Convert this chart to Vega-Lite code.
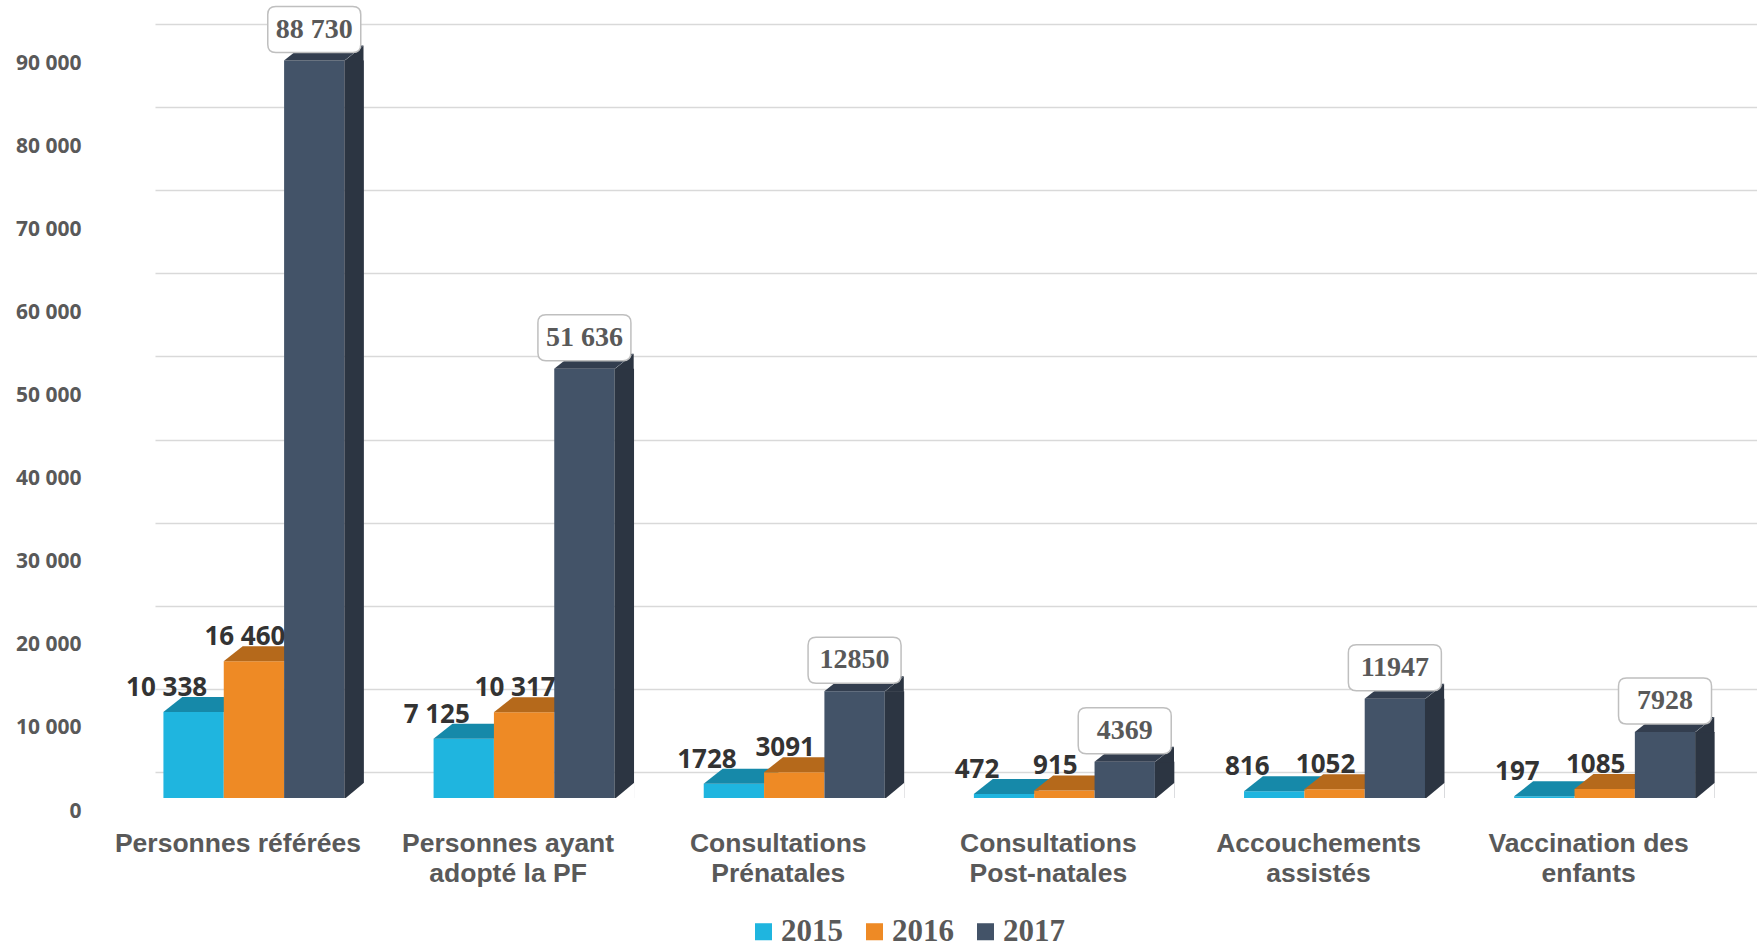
{
  "$schema": "https://vega.github.io/schema/vega-lite/v6.json",
  "width": 1602,
  "height": 748,
  "autosize": {"type": "none"},
  "padding": {"left": 155, "top": 50, "right": 0, "bottom": 149},
  "background": "white",
  "config": {"view": {"stroke": null}, "font": "Open Sans"},
  "data": {
    "values": [
      {"category": "Personnes référées", "year": "2015", "value": 10338, "label": "10 338"},
      {"category": "Personnes référées", "year": "2016", "value": 16460, "label": "16 460"},
      {"category": "Personnes référées", "year": "2017", "value": 88730, "label": "88 730"},
      {"category": "Personnes ayant\nadopté la PF", "year": "2015", "value": 7125, "label": "7 125"},
      {"category": "Personnes ayant\nadopté la PF", "year": "2016", "value": 10317, "label": "10 317"},
      {"category": "Personnes ayant\nadopté la PF", "year": "2017", "value": 51636, "label": "51 636"},
      {"category": "Consultations\nPrénatales", "year": "2015", "value": 1728, "label": "1728"},
      {"category": "Consultations\nPrénatales", "year": "2016", "value": 3091, "label": "3091"},
      {"category": "Consultations\nPrénatales", "year": "2017", "value": 12850, "label": "12850"},
      {"category": "Consultations\nPost-natales", "year": "2015", "value": 472, "label": "472"},
      {"category": "Consultations\nPost-natales", "year": "2016", "value": 915, "label": "915"},
      {"category": "Consultations\nPost-natales", "year": "2017", "value": 4369, "label": "4369"},
      {"category": "Accouchements\nassistés", "year": "2015", "value": 816, "label": "816"},
      {"category": "Accouchements\nassistés", "year": "2016", "value": 1052, "label": "1052"},
      {"category": "Accouchements\nassistés", "year": "2017", "value": 11947, "label": "11947"},
      {"category": "Vaccination des\nenfants", "year": "2015", "value": 197, "label": "197"},
      {"category": "Vaccination des\nenfants", "year": "2016", "value": 1085, "label": "1085"},
      {"category": "Vaccination des\nenfants", "year": "2017", "value": 7928, "label": "7928"}
    ]
  },
  "encoding": {
    "x": {
      "field": "category",
      "type": "nominal",
      "sort": null,
      "scale": {"paddingInner": 0.33, "paddingOuter": 0.13, "align": 0.12},
      "axis": {
        "title": null,
        "ticks": false,
        "tickSize": 0,
        "domain": false,
        "grid": false,
        "labelAngle": 0,
        "labelPadding": 32,
        "labelOffset": -16,
        "labelFont": "Liberation Sans",
        "labelFontWeight": "bold",
        "labelFontSize": 26.5,
        "labelColor": "#595959",
        "labelLineHeight": 30,
        "labelLimit": 500,
        "labelOverlap": false,
        "labelExpr": "split(datum.label, '\\n')"
      }
    },
    "y": {
      "field": "value",
      "type": "quantitative",
      "scale": {"domain": [0, 90000], "nice": false, "zero": true},
      "axis": {
        "title": null,
        "values": [0, 10000, 20000, 30000, 40000, 50000, 60000, 70000, 80000, 90000],
        "labelExpr": "datum.value == 0 ? '0' : (datum.value / 1000) + ' 000'",
        "ticks": false,
        "tickSize": 0,
        "domain": false,
        "grid": true,
        "gridColor": "#D9D9D9",
        "gridWidth": 1.5,
        "tickOffset": -26,
        "labelOffset": 39,
        "labelPadding": 74,
        "labelFont": "Open Sans",
        "labelFontWeight": "bold",
        "labelFontSize": 21,
        "labelColor": "#595959"
      }
    }
  },
  "layer": [
    {
      "transform": [{"filter": "datum.year == '2015'"}],
      "mark": {"type": "bar"},
      "encoding": {
        "xOffset": {"field": "year", "type": "nominal", "scale": {"domain": ["2015", "2016", "2017"], "paddingInner": 0, "paddingOuter": 0}},
        "color": {
          "field": "year", "type": "nominal",
          "scale": {"domain": ["2015", "2016", "2017"], "range": ["#1FB5DF", "#EE8A25", "#435368"]},
          "legend": {"orient": "none", "legendX": 593, "legendY": 866, "direction": "horizontal", "title": null, "symbolType": "square", "symbolSize": 290, "symbolStrokeWidth": 0, "labelFont": "Liberation Serif", "labelFontWeight": "bold", "labelFontSize": 31, "labelColor": "#595959", "labelOffset": 2, "columnPadding": 16}
        }
      }
    },
    {
      "transform": [{"filter": "datum.year == '2015'"}],
      "mark": {"type": "point", "shape": "M-0.605,0L0.605,0L0.985,-0.3L-0.225,-0.3Z", "size": 10000, "filled": true, "opacity": 1, "strokeWidth": 0, "color": "#1689A9"},
      "encoding": {"xOffset": {"field": "year", "type": "nominal"}}
    },
    {
      "transform": [{"filter": "datum.year == '2016'"}],
      "mark": {"type": "bar"},
      "encoding": {
        "xOffset": {"field": "year", "type": "nominal"},
        "color": {
          "field": "year", "type": "nominal",
          "scale": {"domain": ["2015", "2016", "2017"], "range": ["#1FB5DF", "#EE8A25", "#435368"]},
          "legend": {"orient": "none", "legendX": 593, "legendY": 866, "direction": "horizontal", "title": null, "symbolType": "square", "symbolSize": 290, "symbolStrokeWidth": 0, "labelFont": "Liberation Serif", "labelFontWeight": "bold", "labelFontSize": 31, "labelColor": "#595959", "labelOffset": 2, "columnPadding": 16}
        }
      }
    },
    {
      "transform": [{"filter": "datum.year == '2016'"}],
      "mark": {"type": "point", "shape": "M-0.605,0L0.605,0L0.985,-0.3L-0.225,-0.3Z", "size": 10000, "filled": true, "opacity": 1, "strokeWidth": 0, "color": "#B5691B"},
      "encoding": {"xOffset": {"field": "year", "type": "nominal"}}
    },
    {
      "transform": [{"filter": "datum.year == '2017'"}],
      "mark": {"type": "bar"},
      "encoding": {
        "xOffset": {"field": "year", "type": "nominal"},
        "color": {
          "field": "year", "type": "nominal",
          "scale": {"domain": ["2015", "2016", "2017"], "range": ["#1FB5DF", "#EE8A25", "#435368"]},
          "legend": {"orient": "none", "legendX": 593, "legendY": 866, "direction": "horizontal", "title": null, "symbolType": "square", "symbolSize": 290, "symbolStrokeWidth": 0, "labelFont": "Liberation Serif", "labelFontWeight": "bold", "labelFontSize": 31, "labelColor": "#595959", "labelOffset": 2, "columnPadding": 16}
        }
      }
    },
    {
      "transform": [{"filter": "datum.year == '2017'"}],
      "mark": {"type": "bar", "width": 19.5, "xOffset": 100.2, "color": "#2C3542"}
    },
    {
      "transform": [{"filter": "datum.year == '2017'"}],
      "mark": {"type": "point", "shape": "M0.6,0.01L0.985,-0.3L0.985,0.01Z", "size": 10000, "filled": true, "opacity": 1, "strokeWidth": 0, "color": "#2C3542"},
      "encoding": {"xOffset": {"field": "year", "type": "nominal"}}
    },
    {
      "transform": [{"filter": "datum.year == '2017'"}],
      "mark": {"type": "point", "shape": "M0.605,0.02L0.995,-0.305L0.995,0.02Z", "size": 10000, "filled": true, "opacity": 1, "strokeWidth": 0, "color": "white"},
      "encoding": {"xOffset": {"field": "year", "type": "nominal"}, "y": {"datum": 0, "type": "quantitative"}}
    },
    {
      "transform": [{"filter": "datum.year == '2017'"}],
      "mark": {"type": "point", "shape": "M-0.605,0L0.605,0L0.985,-0.3L-0.225,-0.3Z", "size": 10000, "filled": true, "opacity": 1, "strokeWidth": 0, "color": "#333E4F"},
      "encoding": {"xOffset": {"field": "year", "type": "nominal"}}
    },
    {
      "transform": [{"filter": "datum.year == '2015'"}],
      "mark": {"type": "text", "dx": -27, "dy": -24, "baseline": "middle", "font": "Open Sans", "fontWeight": "bold", "fontSize": 26, "color": "#333333"},
      "encoding": {"xOffset": {"field": "year", "type": "nominal"}, "text": {"field": "label"}}
    },
    {
      "transform": [{"filter": "datum.year == '2016'"}],
      "mark": {"type": "text", "dx": -9, "dy": -24, "baseline": "middle", "font": "Open Sans", "fontWeight": "bold", "fontSize": 26, "color": "#333333"},
      "encoding": {"xOffset": {"field": "year", "type": "nominal"}, "text": {"field": "label"}}
    },
    {
      "transform": [{"filter": "datum.year == '2017'"}],
      "mark": {"type": "point", "shape": "M-0.77,-0.46L0.77,-0.46Q0.93,-0.46 0.93,-0.3L0.93,0.3Q0.93,0.46 0.77,0.46L-0.77,0.46Q-0.93,0.46 -0.93,0.3L-0.93,-0.3Q-0.93,-0.46 -0.77,-0.46Z", "size": 10000, "filled": true, "opacity": 1, "fill": "white", "stroke": "#BFBFBF", "strokeWidth": 1.5, "yOffset": -31},
      "encoding": {"xOffset": {"field": "year", "type": "nominal"}}
    },
    {
      "transform": [{"filter": "datum.year == '2017'"}],
      "mark": {"type": "text", "dy": -31, "baseline": "middle", "font": "Liberation Serif", "fontWeight": "bold", "fontSize": 28, "color": "#595959"},
      "encoding": {"xOffset": {"field": "year", "type": "nominal"}, "text": {"field": "label"}}
    }
  ]
}
